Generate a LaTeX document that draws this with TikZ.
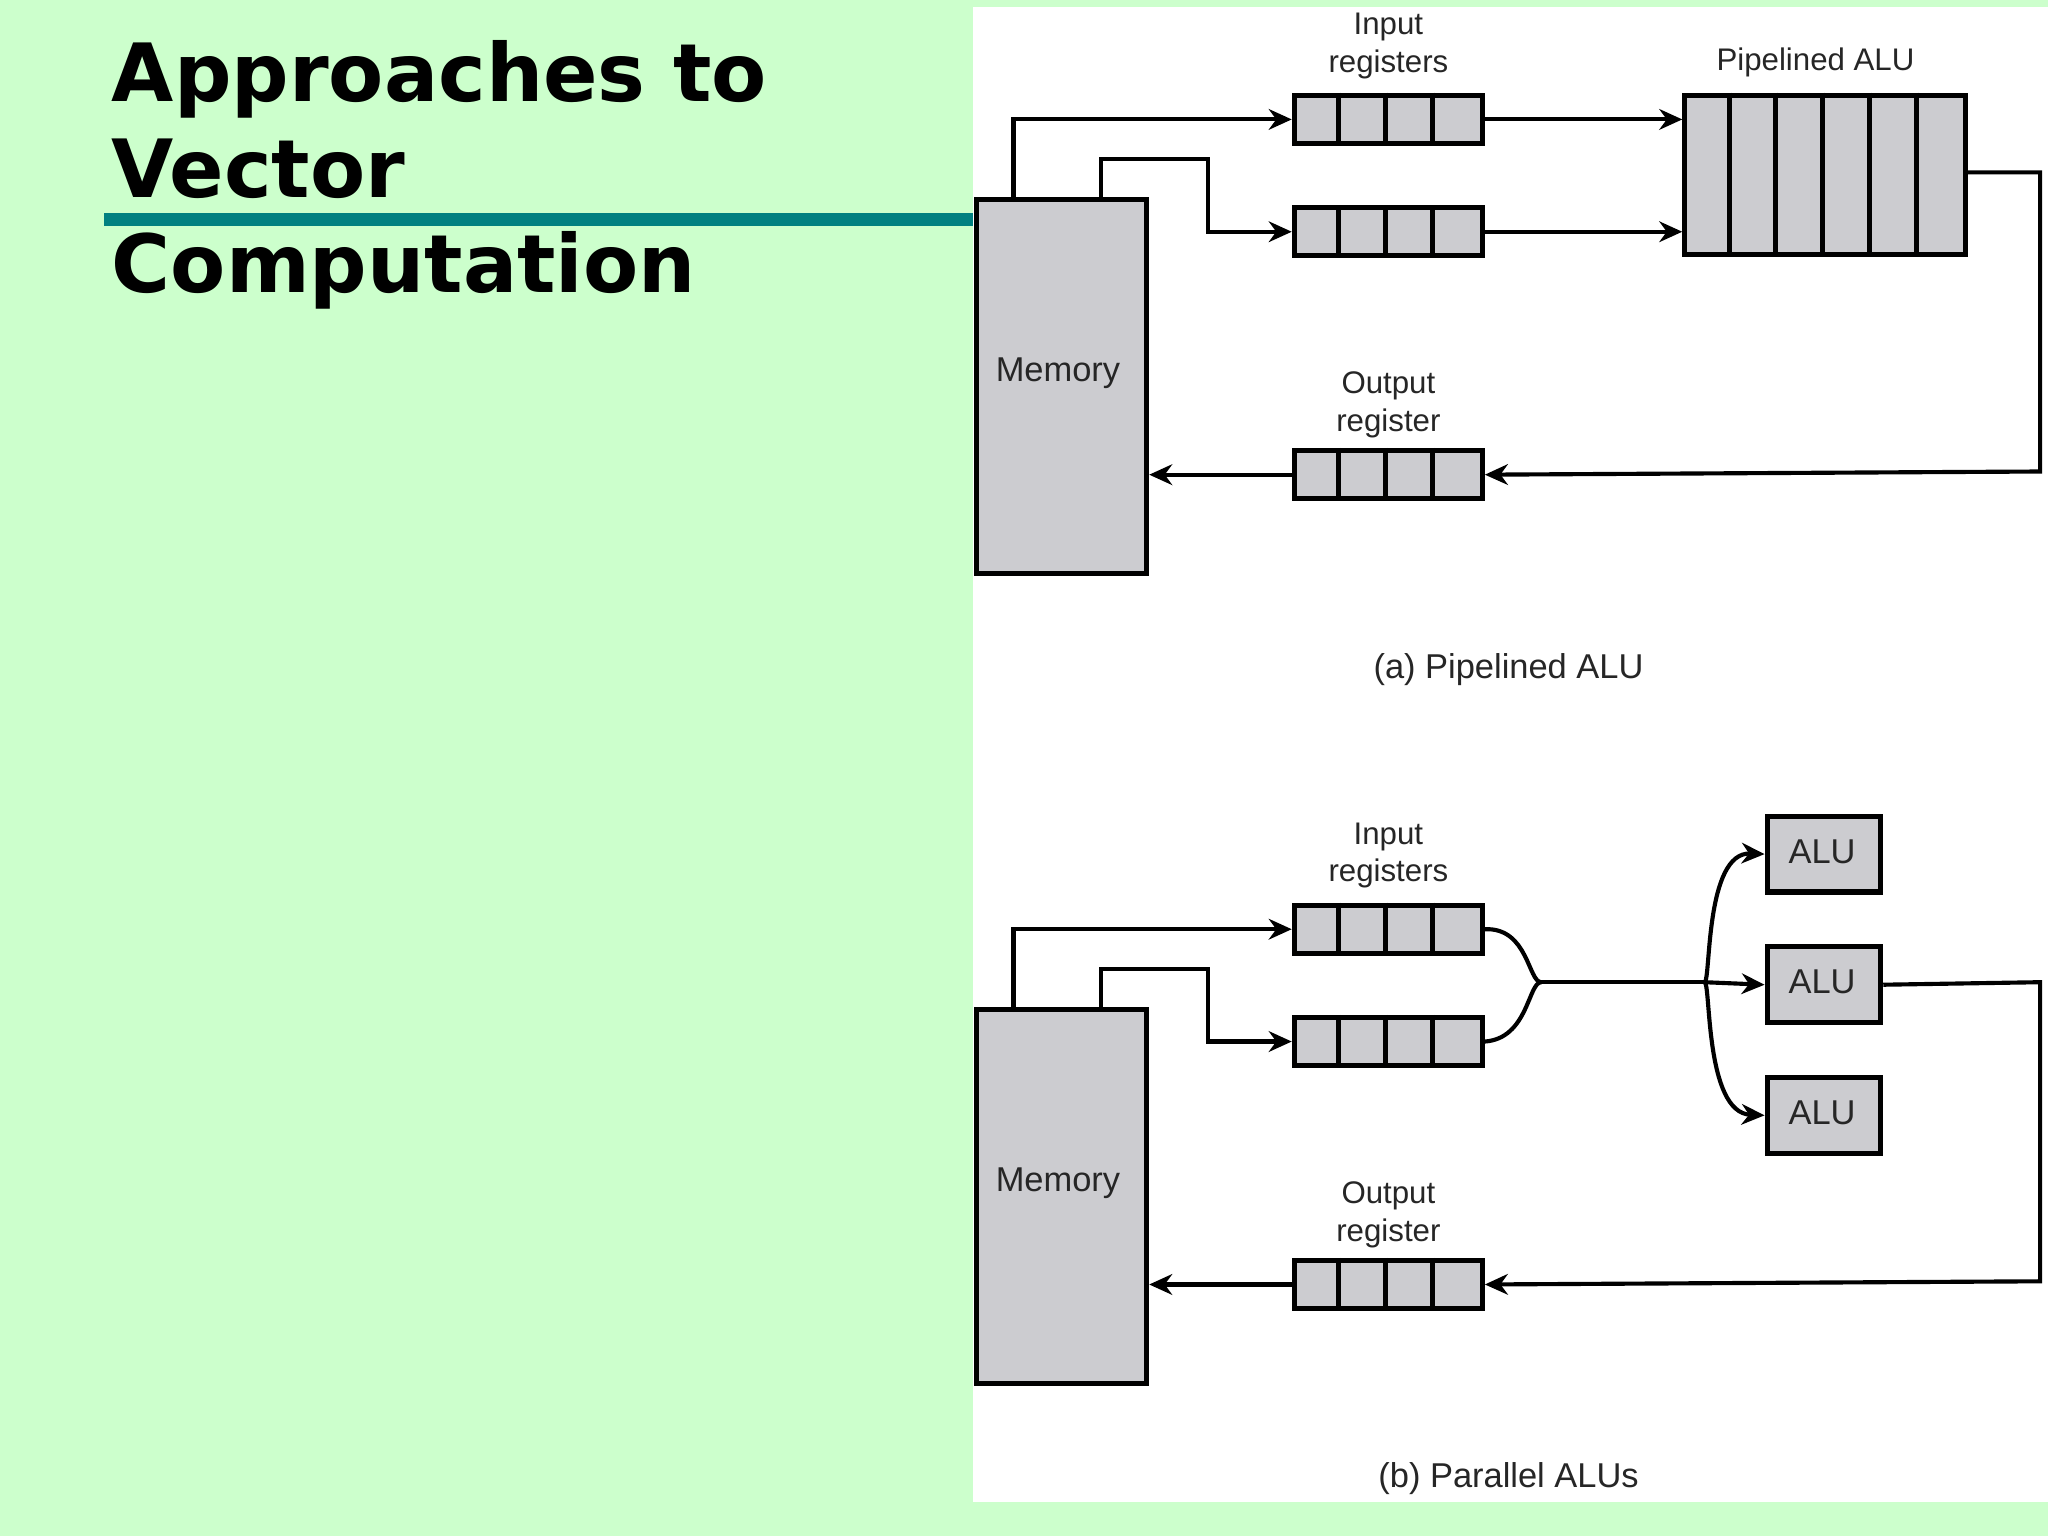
\documentclass[tikz,border=0pt]{standalone}
\usepackage{fontspec}
\setmainfont{Liberation Sans}
\newfontfamily\titlefont{DejaVu Sans}
\usetikzlibrary{arrows.meta}
\definecolor{bggreen}{RGB}{204,255,204}
\definecolor{teal2}{RGB}{0,128,128}
\definecolor{regfill}{RGB}{204,204,208}
\begin{document}
\begin{tikzpicture}[x=0.01cm,y=-0.01cm,
  box/.style={draw=black,line width=1.1pt,fill=regfill,inner sep=0pt,anchor=north west},
  lab/.style={font=\fontsize{6.8}{8.2}\selectfont,align=center,text=black!85},
  conn/.style={line width=0.9pt,-{Stealth[length=5pt,width=4.5pt]}},
  wire/.style={line width=0.9pt}]
\fill[bggreen] (0,0) rectangle (1568,1176);
\useasboundingbox (0,0) rectangle (1568,1176);
\fill[white] (745,5) rectangle (1568,1150);
\fill[teal2] (80,163) rectangle (745,173);
\node[anchor=base west,font=\titlefont\bfseries\fontsize{17.5}{20}\selectfont,inner sep=0pt] (t1) at (85,78) {Approaches to};
\node[anchor=base west,font=\titlefont\bfseries\fontsize{17.5}{20}\selectfont,inner sep=0pt] (t2) at (85,151) {Vector};
\node[anchor=base west,font=\titlefont\bfseries\fontsize{17.5}{20}\selectfont,inner sep=0pt] (t3) at (85,224) {Computation};
\newcommand\myreg[3]{%
  \node[box,minimum width=144*0.01cm,minimum height=37*0.01cm] (#1) at (#2,#3) {};
  \foreach \k in {1,2,3}{\draw[line width=1.1pt] (#2+36*\k,#3) -- (#2+36*\k,#3+37);}}
\foreach \o/\s in {0/a,620/b}{
  \node[box,minimum width=130*0.01cm,minimum height=286*0.01cm] (mem\s) at (746,151+\o) {};
  \node[lab,font=\fontsize{7.5}{9}\selectfont] (meml\s) at (810,286+\o) {Memory};
  \myreg{ra\s}{989}{71+\o}
  \myreg{rb\s}{989}{157+\o}
  \myreg{ro\s}{989}{343+\o}
  \node[lab] (il\s) at (1063,35+\o) {Input\\registers};
  \node[lab] (ol\s) at (1063,310+\o) {Output\\register};
  \draw[conn] (776,151+\o) |- (ra\s.west);
  \draw[conn] (843,151+\o) |- (925,122+\o) |- (rb\s.west);
  \draw[conn] (ro\s.west) -- (mem\s.east |- ro\s.west);
}
% (a)
\node[box,minimum width=215*0.01cm,minimum height=122*0.01cm] (alu) at (1288,71) {};
\foreach \k in {1,...,5}{\draw[line width=1.1pt] (1288+35.8*\k,71) -- (1288+35.8*\k,193);}
\node[lab] (alul) at (1390,48) {Pipelined ALU};
\draw[conn] (raa.east) -- (alu.west |- raa.east);
\draw[conn] (rba.east) -- (alu.west |- rba.east);
\draw[conn] (alu.east |- 0,132) -| (1562,361) -- (roa.east);
\node[lab,font=\fontsize{7.5}{9}\selectfont] (capa) at (1155,513) {(a) Pipelined ALU};
% (b)
\foreach \i/\y in {1/623,2/723,3/823}{
  \node[box,minimum width=87*0.01cm,minimum height=58*0.01cm] (p\i) at (1351,\y) {};
  \node[lab,font=\fontsize{7.5}{9}\selectfont] (pl\i) at (1395,\y+29) {ALU};
}
\coordinate (m) at (1180,752);
\coordinate (s) at (1305,752);
\draw[wire] (rab.east) .. controls (1170,710) and (1170,752) .. (m);
\draw[wire] (rbb.east) .. controls (1170,795) and (1170,752) .. (m);
\draw[wire] (m) -- (s);
\draw[conn] (s) .. controls (1310,752) and (1305,652) .. (p1.west);
\draw[conn] (s) -- (p2.west);
\draw[conn] (s) .. controls (1310,752) and (1305,852) .. (p3.west);
\draw[conn] (p2.east) -- (1562,752) -- (1562,981) -- (rob.east);
\node[lab,font=\fontsize{7.5}{9}\selectfont] (capb) at (1155,1132) {(b) Parallel ALUs};
\end{tikzpicture}
\end{document}
